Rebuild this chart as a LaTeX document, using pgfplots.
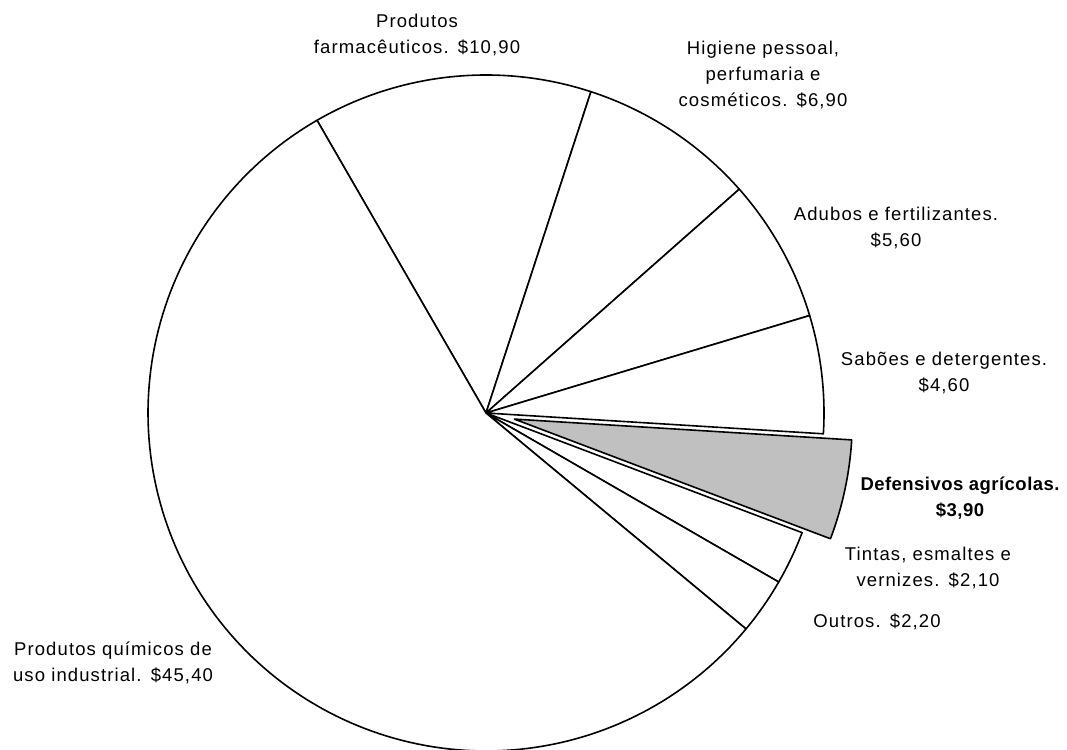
\documentclass[border=0pt]{standalone}
\usepackage{fontspec}
\setmainfont{Liberation Sans}[LetterSpace=6, BoldFeatures={LetterSpace=2.5}]
\usepackage{pgfplots}
\pgfplotsset{compat=1.18}
\definecolor{silverg}{RGB}{192,192,192}
\newcommand\curang{120}
\newcommand\total{81.6}
\newcommand{\slice}[3]{%
  \pgfmathsetmacro\sA{\curang}%
  \pgfmathsetmacro\sB{\curang-#1/\total*360}%
  \pgfmathsetmacro\sM{(\sA+\sB)/2}%
  \pgfmathsetmacro\ox{486+#3*cos(\sM)}%
  \pgfmathsetmacro\oy{336+#3*sin(\sM)}%
  \edef\doplot{\noexpand\addplot[draw=black, fill=#2, line width=1.6pt, line join=round, domain=\sB:\sA, samples=150, variable=\noexpand\t] ({\ox+338*cos(\noexpand\t)},{\oy+338*sin(\noexpand\t)}) -- (axis cs:\ox,\oy) -- cycle;}%
  \doplot
  \global\let\curang\sB
}
\begin{document}
\begin{tikzpicture}
\useasboundingbox (0,0) rectangle (1067pt,749pt);
\clip (0,0) rectangle (1067pt,749pt);
\begin{axis}[scale only axis, width=1067pt, height=749pt,
  xmin=0, xmax=1067, ymin=0, ymax=749, hide axis, clip=false]
% value, fill, explode offset
\slice{10.9}{white}{0}
\slice{6.9}{white}{0}
\slice{5.6}{white}{0}
\slice{4.6}{white}{0}
\slice{3.9}{silverg}{29}
\slice{2.1}{white}{0}
\slice{2.2}{white}{0}
\slice{45.4}{white}{0}
\begin{scope}[every node/.style={align=center, font=\fontsize{18.5}{26}\selectfont, inner sep=0pt}]
\node at (axis cs:417,714) {Produtos\\farmacêuticos.\enspace\$10,90};
\node at (axis cs:763,674) {Higiene pessoal,\\perfumaria e\\cosméticos.\enspace\$6,90};
\node at (axis cs:896,521) {Adubos e fertilizantes.\\\$5,60};
\node at (axis cs:944,376) {Sabões e detergentes.\\\$4,60};
\node[font=\fontsize{18.5}{26}\selectfont\bfseries] at (axis cs:960,251) {Defensivos agrícolas.\\\$3,90};
\node at (axis cs:928,181) {Tintas, esmaltes e\\vernizes.\enspace\$2,10};
\node at (axis cs:877,127) {Outros.\enspace\$2,20};
\node at (axis cs:113,86) {Produtos químicos de\\uso industrial.\enspace\$45,40};
\end{scope}
\end{axis}
\end{tikzpicture}
\end{document}
